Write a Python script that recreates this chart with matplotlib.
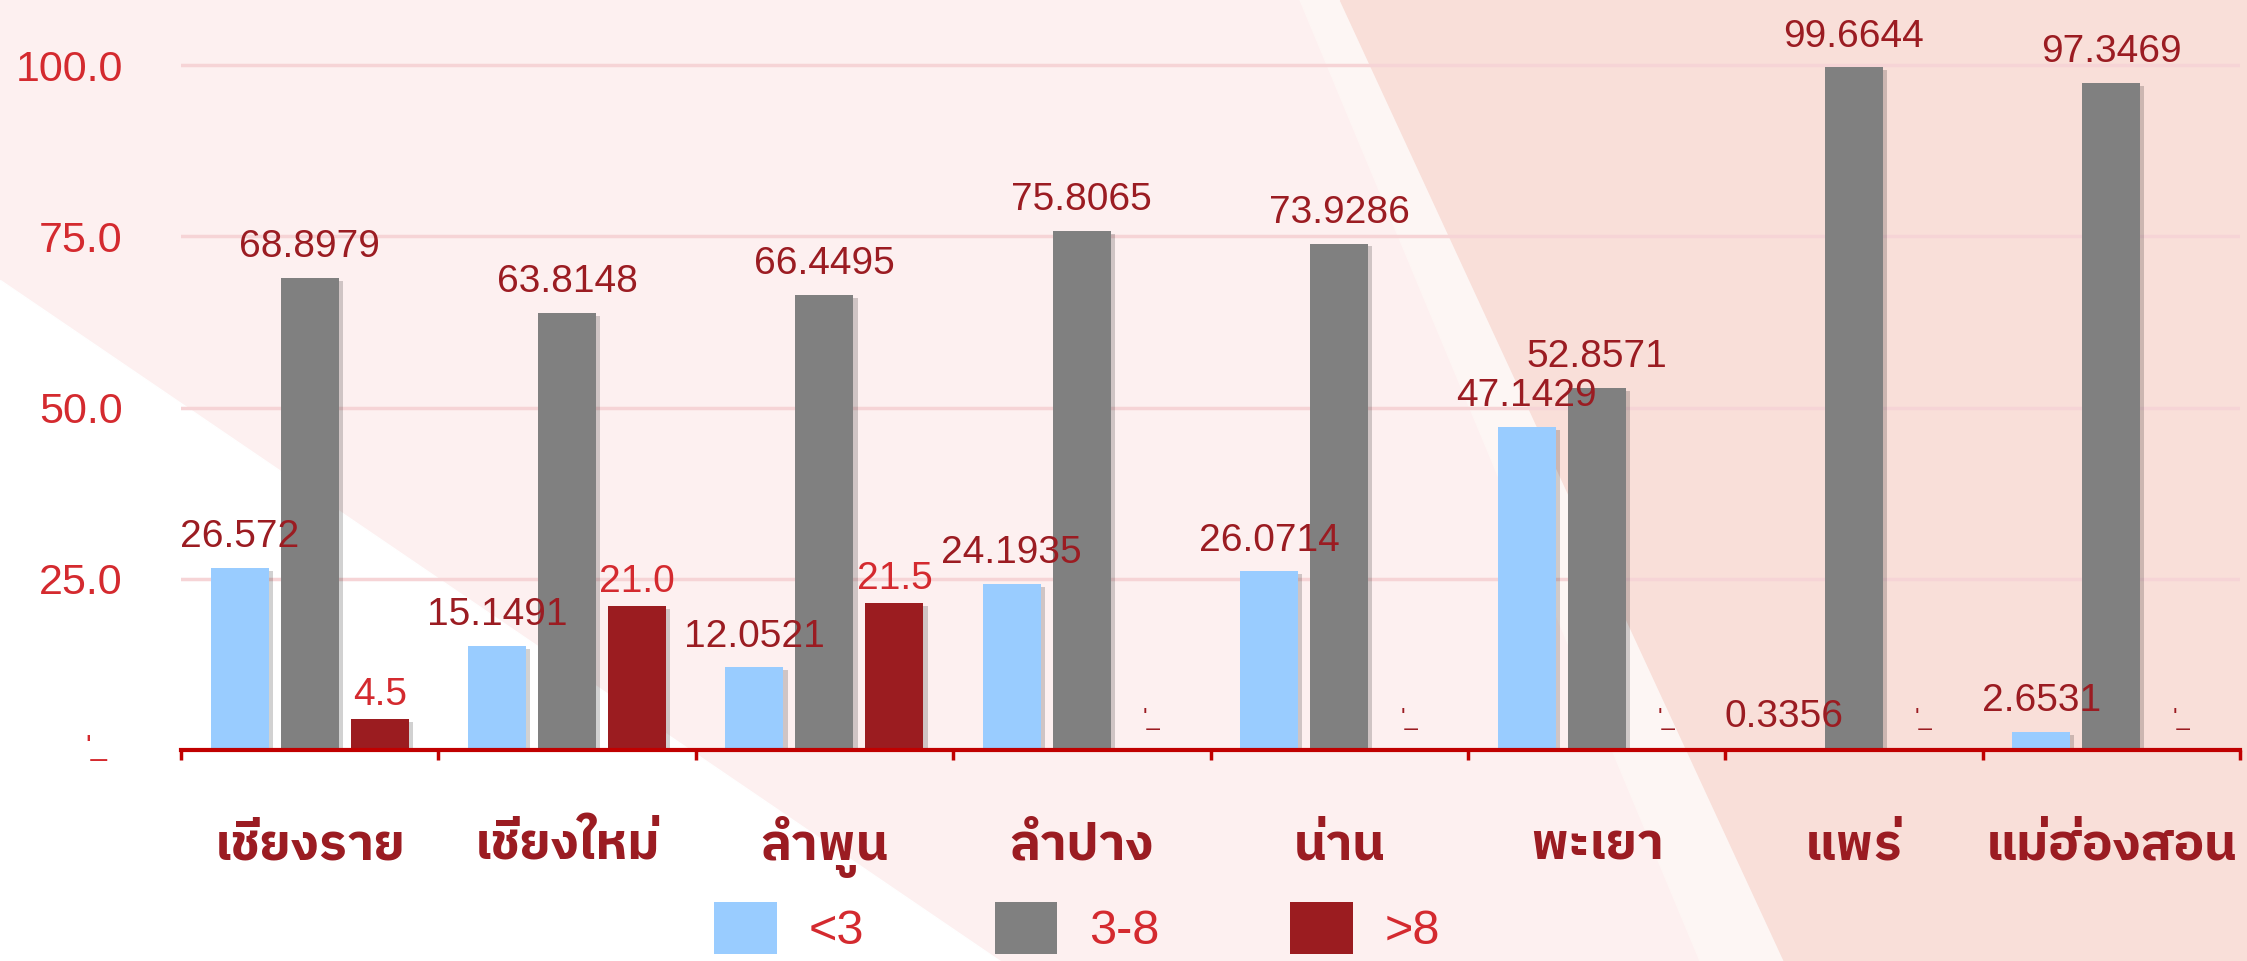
import numpy as np
import matplotlib
matplotlib.use('Agg')
import matplotlib.pyplot as plt
import matplotlib.patheffects as pe
from matplotlib import font_manager
from matplotlib.patches import Polygon, Patch
from matplotlib.transforms import ScaledTranslation

# ข้อมูล
provinces = ['เชียงราย', 'เชียงใหม่', 'ลำพูน', 'ลำปาง', 'น่าน', 'พะเยา', 'แพร่', 'แม่ฮ่องสอน']
series_names = ['<3', '3-8', '>8']
under3 = [26.572, 15.1491, 12.0521, 24.1935, 26.0714, 47.1429, 0.3356, 2.6531]
mid3to8 = [68.8979, 63.8148, 66.4495, 75.8065, 73.9286, 52.8571, 99.6644, 97.3469]
over8 = [4.5, 21.0, 21.5, 0, 0, 0, 0, 0]
yticks = [0, 25, 50, 75, 100]

W, H = 2247, 961
DARK = '#9B1C22'
RED = '#D42A2F'
AXRED = '#C00000'
colors = ['#99CCFF', '#808080', '#9B1C20']

num_font = 'Liberation Sans'
thai_prop = font_manager.FontProperties(family='IBM Plex Sans Thai', weight='bold', size=37)

fig = plt.figure(figsize=(W / 100, H / 100), dpi=100)
fig.patch.set_facecolor('#FDF0F0')

# พื้นหลัง
fig.patches.append(Polygon([(0, 1 - 280 / H), (0, 0), (1000 / W, 0)], closed=True,
                           transform=fig.transFigure, color='white', zorder=-10))
fig.patches.append(Polygon([(1300 / W, 1), (1340 / W, 1), (1784 / W, 0), (1700 / W, 0)], closed=True,
                           transform=fig.transFigure, color='#FDF6F4', zorder=-10))
fig.patches.append(Polygon([(1340 / W, 1), (1, 1), (1, 0), (1784 / W, 0)], closed=True,
                           transform=fig.transFigure, color='#F9DFD9', zorder=-10))

ax = fig.add_axes([181 / W, 211 / H, (2240 - 181) / W, 750 / H])
ax.set_facecolor('none')

x = np.arange(len(provinces))
bw = 0.225
off = 0.272
shadow = [pe.SimplePatchShadow(offset=(3, -2), shadow_rgbFace='black', alpha=0.18), pe.Normal()]

for i, (vals, c) in enumerate(zip([under3, mid3to8, over8], colors)):
    bars = ax.bar(x + (i - 1) * off, vals, bw, color=c, zorder=3)
    for b in bars:
        b.set_path_effects(shadow)
    for xi, v in zip(x + (i - 1) * off, vals):
        if i == 2 and v > 0:
            ax.annotate('{:.1f}'.format(v), (xi, v), xytext=(0, 10), textcoords='offset points',
                        ha='center', va='baseline', fontsize=28, color=RED,
                        family=num_font, zorder=5)
        elif i == 2:
            ax.annotate("'_", (xi, v), xytext=(0, 18), textcoords='offset points',
                        ha='center', va='baseline', fontsize=17, color=DARK,
                        family=num_font, zorder=5)
        else:
            ax.annotate('{:g}'.format(v), (xi, v), xytext=(0, 15), textcoords='offset points',
                        ha='center', va='baseline', fontsize=28, color=DARK,
                        family=num_font, zorder=5)

ax.set_xlim(-0.5, len(provinces) - 0.5)
ax.set_ylim(0, 109.5)
ax.set_yticks(yticks)
ax.set_yticklabels(["'_" if t == 0 else '{:.1f}'.format(t) for t in yticks],
                   fontsize=31, color=RED, family=num_font)
ax.tick_params(axis='y', length=0, pad=42)
zero_lab = ax.get_yticklabels()[0]
zero_lab.set_fontsize(21)
zero_lab.set_transform(zero_lab.get_transform() + ScaledTranslation(-0.15, 0.06, fig.dpi_scale_trans))

ax.set_xticks(x)
ax.set_xticklabels(provinces, fontproperties=thai_prop, color=DARK)
for lab in ax.get_xticklabels():
    lab.set_va('baseline')
ax.set_xticks(np.arange(len(provinces) + 1) - 0.5, minor=True)
ax.tick_params(axis='x', which='major', length=0, pad=79)
ax.tick_params(axis='x', which='minor', length=7, width=2.5, color=AXRED)

ax.yaxis.grid(True, color='#F6D4D6', lw=2.5, zorder=0)
ax.set_axisbelow(True)
for s in ['top', 'right', 'left']:
    ax.spines[s].set_visible(False)
ax.spines['bottom'].set_color(AXRED)
ax.spines['bottom'].set_linewidth(3)
ax.spines['bottom'].set_zorder(4)

handles = [Patch(facecolor=c) for c in colors]
fig.legend(handles, series_names, ncol=3, loc='center', bbox_to_anchor=(1077 / W, 1 - 928 / H),
           frameon=False, prop={'family': num_font, 'size': 35}, labelcolor=RED,
           handlelength=1.28, handleheight=1.28, handletextpad=0.65, columnspacing=2.7)

fig.savefig('out.png', dpi=100)
